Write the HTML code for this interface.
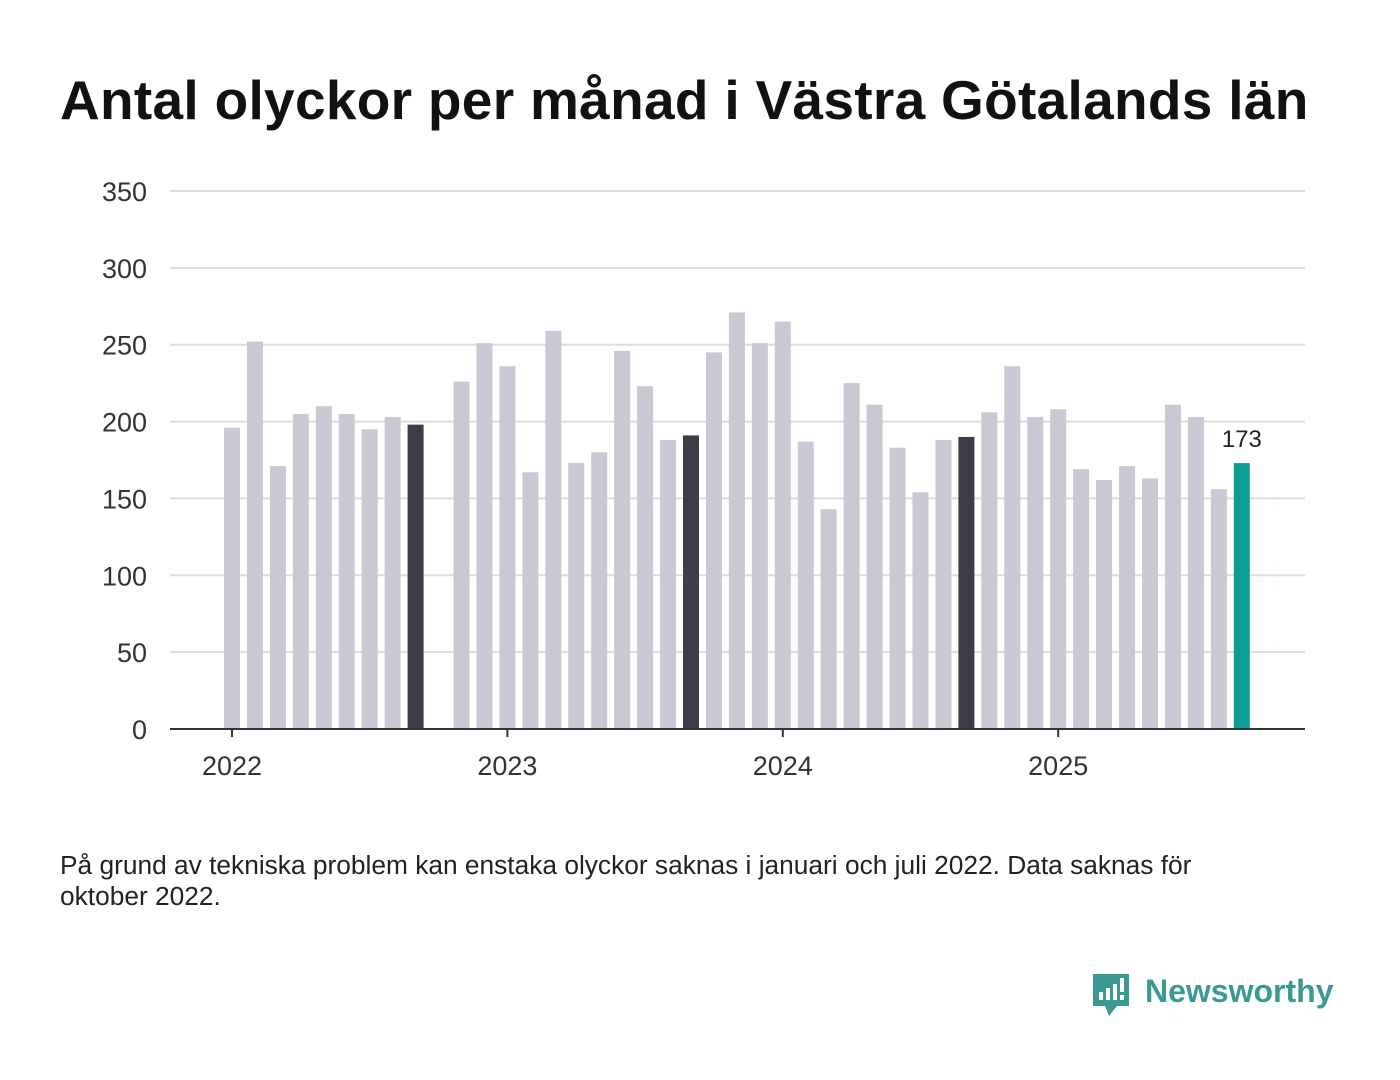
<!DOCTYPE html>
<html><head><meta charset="utf-8">
<style>
body{margin:0;width:1400px;height:1080px;background:#fff;font-family:"Liberation Sans",sans-serif;overflow:hidden;position:relative}
#title{position:absolute;left:60px;top:68px;font-size:55px;font-weight:bold;color:#111;margin:0;letter-spacing:0.3px;white-space:nowrap}
#note{position:absolute;left:60px;top:850px;font-size:26.3px;color:#222;line-height:31px;width:1180px}
#logo{position:absolute;left:1090px;top:970px}
</style></head><body>
<h1 id="title">Antal olyckor per månad i Västra Götalands län</h1>
<svg id="chart" width="1400" height="820" style="position:absolute;left:0;top:0"></svg>
<div id="note">På grund av tekniska problem kan enstaka olyckor saknas i januari och juli 2022. Data saknas för oktober 2022.</div>
<svg id="logo" width="260" height="56">
<path d="M3 4h36v32h-12l-8 10-4-10H3z" fill="#3a9a93"/>
<rect x="9" y="22" width="4" height="8" fill="#fff"/><rect x="16" y="18" width="4" height="12" fill="#fff"/><rect x="23" y="14" width="4" height="16" fill="#fff"/><rect x="30" y="8" width="4" height="14" fill="#fff"/><rect x="30" y="25" width="4" height="5" fill="#fff"/>
<text x="55" y="32" font-size="32" font-weight="bold" fill="#3a9a93" font-family="Liberation Sans, sans-serif">Newsworthy</text>
</svg>
<script>
const months=["2022-01","2022-02","2022-03","2022-04","2022-05","2022-06","2022-07","2022-08","2022-09","2022-10","2022-11","2022-12","2023-01","2023-02","2023-03","2023-04","2023-05","2023-06","2023-07","2023-08","2023-09","2023-10","2023-11","2023-12","2024-01","2024-02","2024-03","2024-04","2024-05","2024-06","2024-07","2024-08","2024-09","2024-10","2024-11","2024-12","2025-01","2025-02","2025-03","2025-04","2025-05","2025-06","2025-07","2025-08","2025-09"];
const values=[196,252,171,205,210,205,195,203,198,null,226,251,236,167,259,173,180,246,223,188,191,245,271,251,265,187,143,225,211,183,154,188,190,206,236,203,208,169,162,171,163,211,203,156,173];
const yTicks=[0,50,100,150,200,250,300,350];
const xTickLabels=["2022","2023","2024","2025"];
const ns="http://www.w3.org/2000/svg",svg=document.getElementById('chart');
const y=v=>729-v*538/350, x=i=>232+i*22.95;
function mk(t,a){const e=document.createElementNS(ns,t);for(const k in a)e.setAttribute(k,a[k]);svg.appendChild(e);return e;}
yTicks.forEach(t=>{
 const g=mk('line',{x1:170,x2:1305,y1:y(t),y2:y(t),stroke:'#ddd','stroke-width':2});
 
 
 const l=mk('text',{x:147,y:y(t)+10,'text-anchor':'end','font-size':27,fill:'#333'});l.textContent=t;
 
 
});
values.forEach((v,i)=>{
 if(v==null)return;
 const last=i==values.length-1, sep=months[i].endsWith('-09');
 const b=mk('rect',{x:x(i)-8,y:y(v),width:16,height:729-y(v),fill:last?'#0a9e96':sep?'#3d3c48':'#c9c8d3'});
 
 
 if(last){const t=mk('text',{x:x(i),y:y(v)-16,'text-anchor':'middle','font-size':24,fill:'#222'});t.textContent=v;
 
 }
});
const ax=mk('line',{x1:170,x2:1305,y1:729,y2:729,stroke:'#333','stroke-width':2});


xTickLabels.forEach((l,k)=>{
 const xi=x(k*12);
 mk('line',{x1:xi,x2:xi,y1:729,y2:737,stroke:'#333','stroke-width':2});
 const t=mk('text',{x:xi,y:775,'text-anchor':'middle','font-size':27,fill:'#333'});t.textContent=l;
 
 
});
</script>
</body></html>
